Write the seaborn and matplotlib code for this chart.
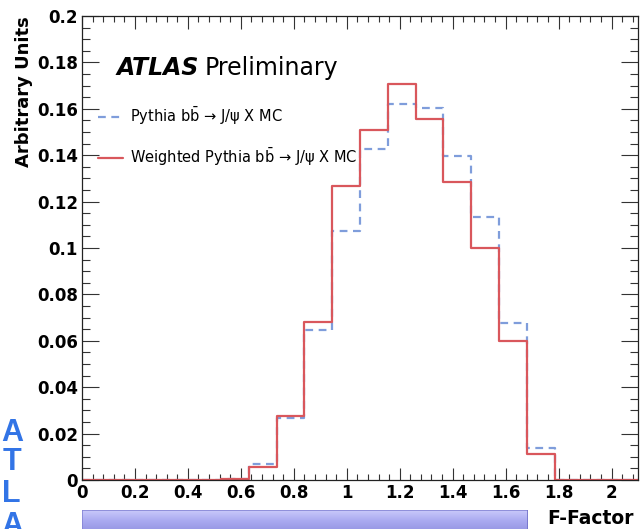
import numpy as np
import pandas as pd
import matplotlib
matplotlib.use("Agg")
import matplotlib.pyplot as plt
from matplotlib.ticker import MultipleLocator, FuncFormatter
from matplotlib.colors import LinearSegmentedColormap
import seaborn as sns

# F-Factor histogram: 20 bins of width 0.105 over [0, 2.1]
bin_edges = [round(0.105 * i, 3) for i in range(21)]
pythia = [0, 0, 0, 0, 0, 0.0006, 0.0067, 0.0268, 0.0647, 0.1073, 0.1428,
          0.1622, 0.1605, 0.1397, 0.1134, 0.0675, 0.0139, 0, 0, 0]
weighted = [0, 0, 0, 0, 0, 0.0006, 0.0058, 0.0275, 0.0680, 0.1267, 0.1507,
            0.1706, 0.1555, 0.1286, 0.0999, 0.0599, 0.0112, 0, 0, 0]
x_ticks = [0, 0.2, 0.4, 0.6, 0.8, 1, 1.2, 1.4, 1.6, 1.8, 2]
y_ticks = [0, 0.02, 0.04, 0.06, 0.08, 0.1, 0.12, 0.14, 0.16, 0.18, 0.2]

label_pythia = r"Pythia b$\bar{\mathrm{b}}$ → J/ψ X MC"
label_weighted = r"Weighted Pythia b$\bar{\mathrm{b}}$ → J/ψ X MC"

centers = [(bin_edges[i] + bin_edges[i + 1]) / 2 for i in range(len(bin_edges) - 1)]
df = pd.DataFrame({"ffactor": centers, "pythia": pythia, "weighted": weighted})

sns.set_style("ticks")
plt.rcParams["font.family"] = ["DejaVu Sans"]
plt.rcParams["mathtext.fontset"] = "dejavusans"
plt.rcParams["text.color"] = "black"
plt.rcParams["axes.labelcolor"] = "black"
plt.rcParams["xtick.labelcolor"] = "black"
plt.rcParams["ytick.labelcolor"] = "black"

fig = plt.figure(figsize=(6.41, 5.29), dpi=100)
ax = fig.add_axes([82 / 641, 1 - 480 / 529, (638 - 82) / 641, (480 - 16) / 529])

blue = "#7f9ddb"
red = "#d9575c"
dash = (0, (3.5, 2.5))
sns.histplot(data=df, x="ffactor", weights="pythia", bins=bin_edges,
             element="step", fill=False, color=blue, linestyle=dash,
             linewidth=1.6, ax=ax)
sns.histplot(data=df, x="ffactor", weights="weighted", bins=bin_edges,
             element="step", fill=False, color=red, linewidth=1.6, ax=ax)

ax.set_xlim(0, 2.1)
ax.set_ylim(0, 0.2)
ax.set_xticks(x_ticks)
ax.set_yticks(y_ticks)
ax.xaxis.set_minor_locator(MultipleLocator(0.04))
ax.yaxis.set_minor_locator(MultipleLocator(0.005))
fmt = FuncFormatter(lambda v, p: f"{v:g}")
ax.xaxis.set_major_formatter(fmt)
ax.yaxis.set_major_formatter(fmt)
for s in ax.spines.values():
    s.set_linewidth(0.9)
    s.set_color("#222222")
ax.tick_params(which="both", direction="in", top=True, right=True,
               color="#333333", width=0.8)
ax.tick_params(axis="y", which="major", length=12, labelsize=12, pad=3)
ax.tick_params(axis="y", which="minor", length=6)
ax.tick_params(axis="x", which="major", length=9, labelsize=12, pad=3)
ax.tick_params(axis="x", which="minor", length=4.5)
for lab in ax.get_xticklabels() + ax.get_yticklabels():
    lab.set_fontweight("bold")

ax.set_xlabel("F-Factor", fontsize=13.5, fontweight="bold", loc="right", labelpad=5)
ax.xaxis.label.set_x(0.993)
ax.set_ylabel("Arbitrary Units", fontsize=13, fontweight="bold", loc="top", labelpad=3)

# Experiment label
ax.text(0.063, 0.873, "ATLAS", transform=ax.transAxes, fontsize=17,
        fontweight="bold", fontstyle="italic", va="baseline")
ax.text(0.221, 0.873, "Preliminary", transform=ax.transAxes, fontsize=17,
        va="baseline")

# Legend entries
ax.plot([], [], color=blue, linestyle=dash, linewidth=1.6, label=label_pythia)
ax.plot([], [], color=red, linewidth=1.6, label=label_weighted)
h, l = ax.get_legend_handles_labels()
ax.legend(h[-2:], l[-2:], loc="upper left", bbox_to_anchor=(0.018, 0.82),
          frameon=False, fontsize=10.5, handlelength=1.7, handletextpad=0.5,
          labelspacing=1.3, borderaxespad=0)

# Slide decoration: vertical lettering and gradient bar below the axes
for ch, yc, xc in [("A", 433, 12), ("T", 462, 12), ("L", 494, 11), ("A", 526, 12)]:
    fig.text(xc / 641, 1 - yc / 529, ch, color="#3274e6", fontsize=22,
             fontweight="bold", ha="center", va="center",
             family="Liberation Sans")

bar_ax = fig.add_axes([82 / 641, 0, (528 - 82) / 641, (529 - 510) / 529])
grad = np.linspace(0, 1, 64)[:, None]
cmap = LinearSegmentedColormap.from_list("bar", ["#cacafa", "#adadf2", "#9a9ae6"])
bar_ax.imshow(grad, aspect="auto", cmap=cmap, extent=(0, 1, 0, 1), origin="upper")
bar_ax.set_xlim(0, 1)
bar_ax.set_ylim(0, 1)
bar_ax.axis("off")
bar_ax.plot([0, 1], [1, 1], color="#8585d6", linewidth=1.2)
bar_ax.plot([0, 0], [0, 1], color="#8585d6", linewidth=1.2)
bar_ax.plot([1, 1], [0, 1], color="#7070c8", linewidth=1.2)

fig.savefig("out.png", dpi=100)
